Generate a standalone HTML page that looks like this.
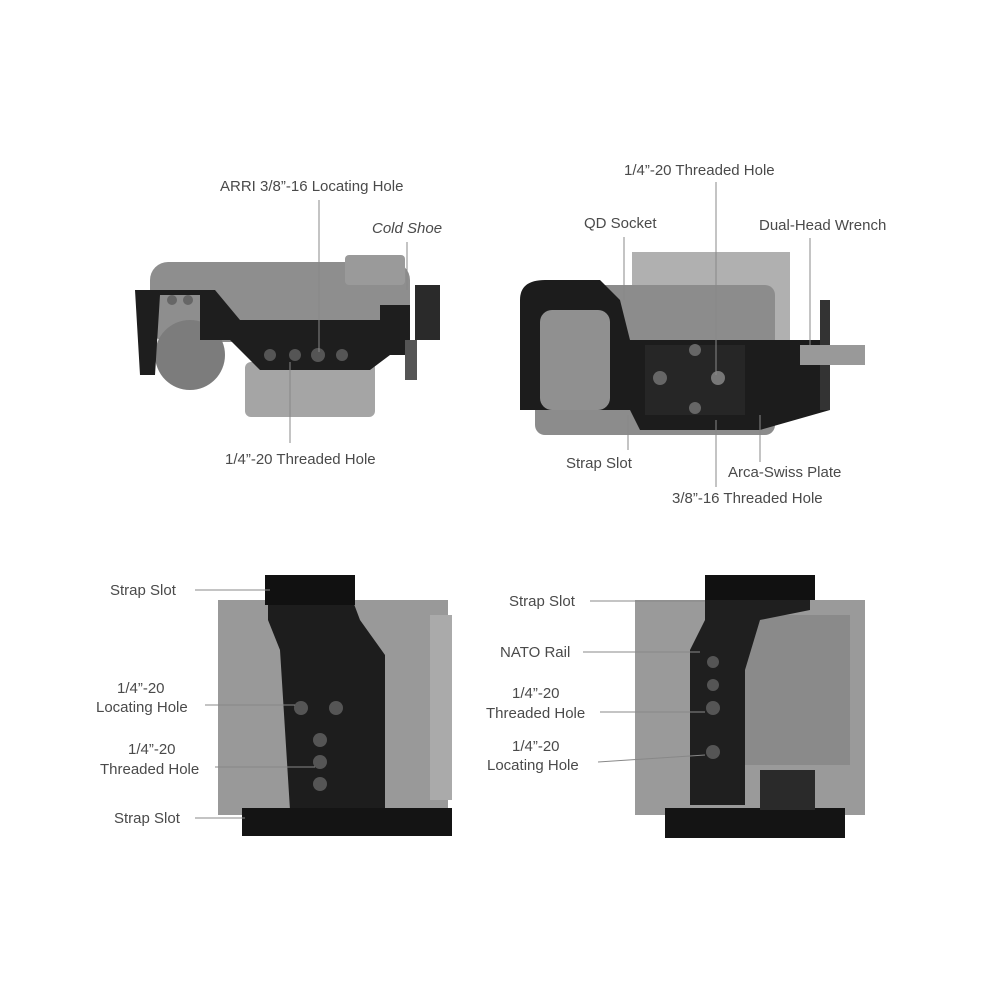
<!DOCTYPE html>
<html><head><style>
body{margin:0;background:#fff;}
svg{display:block}
text{font-family:"Liberation Sans",sans-serif;font-size:15px;fill:#4a4a4a}
</style></head><body>
<svg width="1000" height="1000" viewBox="0 0 1000 1000" xmlns="http://www.w3.org/2000/svg">
<rect width="1000" height="1000" fill="#fff"/>
<!-- TOP LEFT -->
<rect x="150" y="262" width="260" height="80" rx="18" fill="#8e8e8e"/>
<rect x="345" y="255" width="60" height="30" rx="4" fill="#9a9a9a"/>
<circle cx="190" cy="355" r="35" fill="#7c7c7c"/>
<rect x="245" y="362" width="130" height="55" rx="6" fill="#a5a5a5"/>
<path d="M135 290 L215 290 L240 320 L380 320 L380 305 L410 305 L410 355 L390 355 L370 370 L260 370 L230 340 L200 340 L200 295 L160 295 L155 375 L140 375 Z" fill="#1e1e1e"/>
<rect x="415" y="285" width="25" height="55" fill="#2a2a2a"/>
<rect x="405" y="340" width="12" height="40" fill="#555"/>
<circle cx="270" cy="355" r="6" fill="#555"/><circle cx="295" cy="355" r="6" fill="#555"/><circle cx="318" cy="355" r="7" fill="#555"/><circle cx="342" cy="355" r="6" fill="#555"/>
<circle cx="172" cy="300" r="5" fill="#666"/><circle cx="188" cy="300" r="5" fill="#666"/>
<text x="220" y="191">ARRI 3/8”-16 Locating Hole</text>
<line x1="319" y1="200" x2="319" y2="352" stroke="#888"/>
<text x="372" y="233" font-style="italic">Cold Shoe</text>
<line x1="407" y1="242" x2="407" y2="290" stroke="#888"/>
<text x="225" y="464">1/4”-20 Threaded Hole</text>
<line x1="290" y1="362" x2="290" y2="443" stroke="#888"/>
<!-- TOP RIGHT -->
<rect x="632" y="252" width="158" height="90" fill="#b0b0b0"/>
<rect x="535" y="285" width="240" height="150" rx="10" fill="#8c8c8c"/>
<path d="M520 300 Q520 280 545 280 L600 280 L620 300 L630 340 L820 340 L830 410 L760 430 L640 430 L630 410 L520 410 Z" fill="#1c1c1c"/>
<rect x="540" y="310" width="70" height="100" rx="12" fill="#909090"/>
<rect x="645" y="345" width="100" height="70" fill="#262626"/>
<circle cx="695" cy="350" r="6" fill="#666"/><circle cx="718" cy="378" r="7" fill="#777"/><circle cx="695" cy="408" r="6" fill="#666"/><circle cx="660" cy="378" r="7" fill="#666"/>
<rect x="820" y="300" width="10" height="110" fill="#333"/>
<rect x="800" y="345" width="65" height="20" fill="#999"/>
<text x="624" y="175">1/4”-20 Threaded Hole</text>
<line x1="716" y1="182" x2="716" y2="375" stroke="#888"/>
<text x="584" y="228">QD Socket</text>
<line x1="624" y1="237" x2="624" y2="300" stroke="#888"/>
<text x="759" y="230">Dual-Head Wrench</text>
<line x1="810" y1="238" x2="810" y2="345" stroke="#888"/>
<text x="566" y="468">Strap Slot</text>
<line x1="628" y1="415" x2="628" y2="450" stroke="#888"/>
<text x="728" y="477">Arca-Swiss Plate</text>
<line x1="760" y1="415" x2="760" y2="462" stroke="#888"/>
<text x="672" y="503">3/8”-16 Threaded Hole</text>
<line x1="716" y1="420" x2="716" y2="487" stroke="#888"/>
<!-- BOTTOM LEFT -->
<rect x="218" y="600" width="230" height="215" fill="#999"/>
<rect x="430" y="615" width="22" height="185" fill="#aaa"/>
<path d="M268 580 L345 580 L360 620 L385 655 L385 810 L290 810 L280 650 L268 620 Z" fill="#1d1d1d"/>
<rect x="265" y="575" width="90" height="30" fill="#111"/>
<rect x="242" y="808" width="210" height="28" fill="#141414"/>
<circle cx="301" cy="708" r="7" fill="#555"/><circle cx="336" cy="708" r="7" fill="#555"/>
<circle cx="320" cy="740" r="7" fill="#555"/><circle cx="320" cy="762" r="7" fill="#555"/><circle cx="320" cy="784" r="7" fill="#555"/>
<text x="110" y="595">Strap Slot</text>
<line x1="195" y1="590" x2="270" y2="590" stroke="#888"/>
<text x="117" y="693">1/4”-20</text>
<text x="96" y="712">Locating Hole</text>
<line x1="205" y1="705" x2="295" y2="705" stroke="#888"/>
<text x="128" y="754">1/4”-20</text>
<text x="100" y="774">Threaded Hole</text>
<line x1="215" y1="767" x2="315" y2="767" stroke="#888"/>
<text x="114" y="823">Strap Slot</text>
<line x1="195" y1="818" x2="245" y2="818" stroke="#888"/>
<!-- BOTTOM RIGHT -->
<rect x="635" y="600" width="230" height="215" fill="#9a9a9a"/>
<rect x="740" y="615" width="110" height="150" fill="#8a8a8a"/>
<path d="M705 585 L810 585 L810 610 L760 620 L745 670 L745 805 L690 805 L690 650 L705 620 Z" fill="#1f1f1f"/>
<rect x="705" y="575" width="110" height="25" fill="#111"/>
<rect x="665" y="808" width="180" height="30" fill="#141414"/>
<rect x="760" y="770" width="55" height="40" fill="#2a2a2a"/>
<circle cx="713" cy="662" r="6" fill="#555"/><circle cx="713" cy="685" r="6" fill="#555"/><circle cx="713" cy="708" r="7" fill="#555"/><circle cx="713" cy="752" r="7" fill="#555"/>
<text x="509" y="606">Strap Slot</text>
<line x1="590" y1="601" x2="705" y2="601" stroke="#888"/>
<text x="500" y="657">NATO Rail</text>
<line x1="583" y1="652" x2="700" y2="652" stroke="#888"/>
<text x="512" y="698">1/4”-20</text>
<text x="486" y="718">Threaded Hole</text>
<line x1="600" y1="712" x2="705" y2="712" stroke="#888"/>
<text x="512" y="751">1/4”-20</text>
<text x="487" y="770">Locating Hole</text>
<line x1="598" y1="762" x2="705" y2="755" stroke="#888"/>
</svg>
</body></html>
